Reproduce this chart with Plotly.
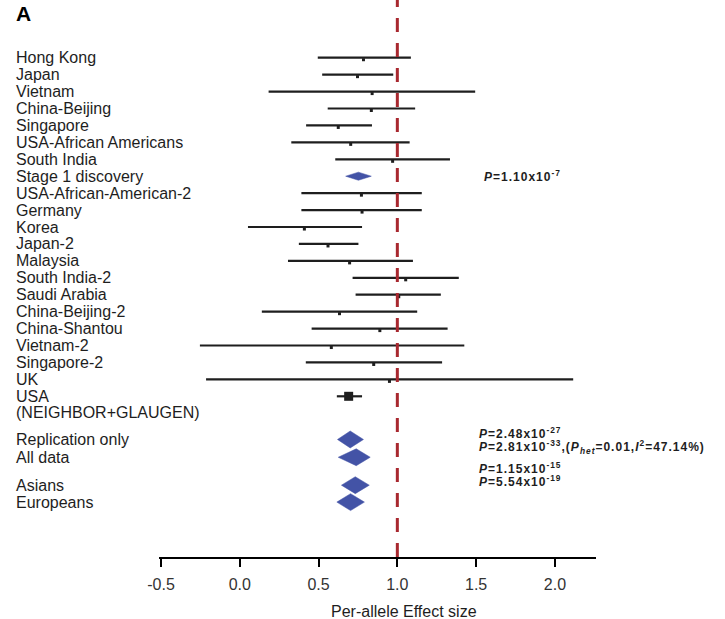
import plotly.graph_objects as go

# individual studies (effect, lower CI, upper CI)
studies = ["Hong Kong", "Japan", "Vietnam", "China-Beijing", "Singapore",
           "USA-African Americans", "South India", "Stage 1 discovery",
           "USA-African-American-2", "Germany", "Korea", "Japan-2", "Malaysia",
           "South India-2", "Saudi Arabia", "China-Beijing-2", "China-Shantou",
           "Vietnam-2", "Singapore-2", "UK", "USA\n(NEIGHBOR+GLAUGEN)"]
study_est = [0.785, 0.747, 0.84, 0.835, 0.625, 0.704, 0.97, 0.753, 0.772, 0.776,
             0.41, 0.560, 0.697, 1.053, 1.009, 0.633, 0.889, 0.581, 0.85, 0.95, 0.691]
study_lo = [0.495, 0.523, 0.183, 0.558, 0.421, 0.327, 0.606, 0.672, 0.391, 0.391,
            0.052, 0.375, 0.306, 0.716, 0.735, 0.140, 0.456, -0.253, 0.419, -0.214, 0.616]
study_hi = [1.086, 0.974, 1.494, 1.113, 0.839, 1.078, 1.334, 0.835, 1.155, 1.155,
            0.776, 0.753, 1.099, 1.390, 1.276, 1.126, 1.319, 1.425, 1.284, 2.116, 0.776]

# pooled estimates
pooled = ["Replication only", "All data", "Asians", "Europeans"]
pooled_est = [0.701, 0.739, 0.733, 0.703]
pooled_lo = [0.620, 0.625, 0.645, 0.616]
pooled_hi = [0.785, 0.828, 0.822, 0.791]

stage1_p = "<i>P</i>=1.10x10<sup>-7</sup>"
pooled_p = ["<i>P</i>=2.48x10<sup>-27</sup>",
            "<i>P</i>=2.81x10<sup>-33</sup>,(<i>P</i><sub><i>het</i></sub>=0.01,<i>I</i><sup>2</sup>=47.14%)",
            "<i>P</i>=1.15x10<sup>-15</sup>",
            "<i>P</i>=5.54x10<sup>-19</sup>"]
pooled_p_shift = [6, 10, 17, 21]

xticks = [-0.5, 0.0, 0.5, 1.0, 1.5, 2.0]

W, H = 725, 619
FONT = "Liberation Sans, Arial, sans-serif"
BLUE = "#4353a6"
INK = "#1e1e1e"

n = len(studies)
study_y = list(range(n))
pooled_y = [n + 1.55, n + 2.6, n + 4.25, n + 5.25]
stage1 = studies.index("Stage 1 discovery")
usa = n - 1

fig = go.Figure()

# CI lines
lx, ly = [], []
for i in range(n):
    if i == stage1:
        continue
    lx += [study_lo[i], study_hi[i], None]
    ly += [study_y[i], study_y[i], None]
fig.add_trace(go.Scatter(x=lx, y=ly, mode="lines", line=dict(color=INK, width=2.2),
                         hoverinfo="skip", showlegend=False))

# point estimates
idx = [i for i in range(n) if i not in (stage1, usa)]
fig.add_trace(go.Scatter(x=[study_est[i] for i in idx], y=[study_y[i] + 0.12 for i in idx],
                         mode="markers", marker=dict(symbol="square", size=3, color=INK),
                         showlegend=False))
fig.add_trace(go.Scatter(x=[study_est[usa]], y=[study_y[usa]], mode="markers",
                         marker=dict(symbol="square", size=9, color=INK), showlegend=False))

# diamonds
dx, dy = [], []
for est, lo, hi, y, h in ([(study_est[stage1], study_lo[stage1], study_hi[stage1], study_y[stage1], 0.24)] +
                          [(e, l, u, y, 0.5) for e, l, u, y in zip(pooled_est, pooled_lo, pooled_hi, pooled_y)]):
    dx += [lo, est, hi, est, lo, None]
    dy += [y, y - h, y, y + h, y, None]
fig.add_trace(go.Scatter(x=dx, y=dy, mode="lines", fill="toself", fillcolor=BLUE,
                         line=dict(color=BLUE, width=0.5), showlegend=False))

# null line
fig.add_shape(type="line", x0=1, x1=1, xref="x", y0=0, y1=1, yref="y domain",
              line=dict(color="#a8282f", width=3, dash="14px,11px"))

ann = []
for i, name in enumerate(studies):
    for j, part in enumerate(name.split("\n")):
        ann.append(dict(x=2 / W, xref="paper", y=study_y[i] + j * 0.98, yref="y", text=part,
                        xanchor="left", yanchor="middle", showarrow=False,
                        font=dict(family=FONT, size=16, color=INK)))
for i, name in enumerate(pooled):
    ann.append(dict(x=2 / W, xref="paper", y=pooled_y[i], yref="y", text=name,
                    xanchor="left", yanchor="middle", showarrow=False,
                    font=dict(family=FONT, size=16, color=INK)))

ptxt = dict(family=FONT, size=12, color=INK, weight="bold")
ann.append(dict(x=478 / W, xref="paper", y=study_y[stage1], yref="y",
                text='<span style="letter-spacing:1px">' + stage1_p + "</span>",
                xanchor="left", yanchor="middle", showarrow=False, font=ptxt))
for i, t in enumerate(pooled_p):
    ann.append(dict(x=473 / W, xref="paper", y=pooled_y[i], yref="y", yshift=pooled_p_shift[i],
                    text='<span style="letter-spacing:1px">' + t + "</span>",
                    xanchor="left", yanchor="middle", showarrow=False, font=ptxt))

ann.append(dict(x=2 / W, xref="paper", y=1, yref="paper", text="<b>A</b>", xanchor="left",
                yanchor="top", showarrow=False, font=dict(family=FONT, size=21, color="black")))
ann.append(dict(x=399 / W, xref="paper", y=8 / H, yref="paper", text="Per-allele Effect size",
                xanchor="center", yanchor="middle", showarrow=False,
                font=dict(family=FONT, size=16, color=INK)))

# pixel geometry of the plotting area
row0, pitch, axis_px = 57.7, 16.93, 557
fig.update_layout(
    width=W, height=H, margin=dict(l=0, r=0, t=0, b=0),
    paper_bgcolor="white", plot_bgcolor="white",
    annotations=ann,
    xaxis=dict(range=[-0.51, 2.26], domain=[149.9 / W, 593.7 / W], tickvals=xticks,
               ticktext=["%.1f" % v for v in xticks], showgrid=False, zeroline=False,
               showline=True, linecolor="black", linewidth=2, ticks="outside",
               ticklen=8, tickwidth=2, tickcolor="black", ticklabelstandoff=4,
               tickfont=dict(family=FONT, size=16, color="#333")),
    yaxis=dict(range=[(axis_px - row0) / pitch, -row0 / pitch],
               domain=[(H - axis_px) / H, 1], visible=False, showgrid=False, zeroline=False),
)

# the page body has a default 8px margin; drop it so the figure fills the window
fig.write_html("out.html", config={"displayModeBar": False},
               post_script="document.body.style.margin='0';")
